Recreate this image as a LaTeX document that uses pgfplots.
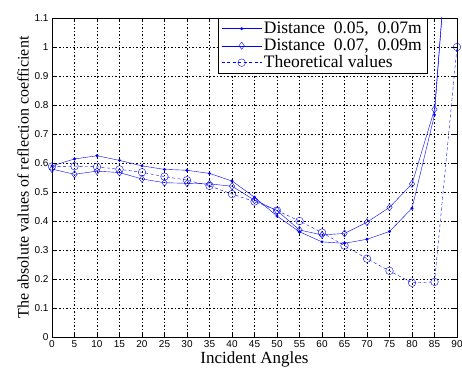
\documentclass[border=0pt]{standalone}
\usepackage{fontspec}
\setmainfont{Liberation Serif}
\setsansfont{Liberation Sans}
\usepackage{pgfplots}
\pgfplotsset{compat=1.18}
\definecolor{mblue}{RGB}{0,0,255}
\begin{document}
\begin{tikzpicture}
\useasboundingbox (-52pt,-33pt) rectangle (410pt,337pt);
\begin{axis}[
  scale only axis, width=405pt, height=319pt,
  xmin=0, xmax=90, ymin=0, ymax=1.1,
  xtick={0,5,10,15,20,25,30,35,40,45,50,55,60,65,70,75,80,85,90},
  ytick={0,0.1,0.2,0.3,0.4,0.5,0.6,0.7,0.8,0.9,1,1.1},
  yticklabels={0,0.1,0.2,0.3,0.4,0.5,0.6,0.7,0.8,0.9,1,1.1},
  xticklabel style={font=\sffamily\fontsize{10}{10}\selectfont},
  yticklabel style={font=\sffamily\fontsize{10}{10}\selectfont},
  /pgf/number format/assume math mode=true,
  tick align=inside, major tick length=4pt,
  tick style={black, thin},
  axis line style={black, thin},
  grid=major,
  major grid style={black, thin, dash pattern=on 1.5pt off 2pt},
  xlabel={Incident Angles},
  ylabel={The absolute values of reflection coefficient},
  xlabel style={font=\fontsize{17}{17}\selectfont, yshift=3pt},
  ylabel style={font=\fontsize{16}{16}\selectfont, yshift=-1pt},
  clip=true,
  legend style={at={(rel axis cs:0.926,1)}, anchor=north east, draw=black, fill=white,
    font=\fontsize{17.5}{17.5}\selectfont, inner xsep=3pt, inner ysep=2pt, row sep=0pt,
    legend cell align=left,
    cells={anchor=west, text height=11.5pt, text depth=4pt, inner ysep=0.5pt}},
  legend image code/.code={\draw[mark repeat=2, mark phase=2, #1] plot coordinates {(0pt,0pt) (20pt,0pt) (40pt,0pt)};},
]
\addplot[mblue, thin, mark=*, mark size=1.3pt, mark options={solid, fill=mblue}] coordinates {
(0,0.590) (5,0.614) (10,0.625) (15,0.609) (20,0.590) (25,0.578) (30,0.575) (35,0.564)
(40,0.538) (45,0.482) (50,0.417) (55,0.363) (60,0.328) (65,0.323) (70,0.337) (75,0.364)
(80,0.444) (85,0.766) (90,1.81)};
\addlegendentry{Distance\ \ 0.05,\ \ 0.07m}
\addplot[mblue, thin, mark=diamond, mark size=3.6pt, mark options={solid}] coordinates {
(0,0.579) (5,0.561) (10,0.572) (15,0.567) (20,0.545) (25,0.532) (30,0.530) (35,0.528)
(40,0.520) (45,0.472) (50,0.436) (55,0.369) (60,0.352) (65,0.357) (70,0.396) (75,0.447)
(80,0.528) (85,0.785) (90,1.75)};
\addlegendentry{Distance\ \ 0.07,\ \ 0.09m}
\addplot[mblue, thin, dash pattern=on 3pt off 2.5pt, mark=o, mark size=3.8pt, mark options={solid}] coordinates {
(0,0.588) (5,0.589) (10,0.587) (15,0.578) (20,0.568) (25,0.553) (30,0.541) (35,0.521)
(40,0.493) (45,0.467) (50,0.436) (55,0.400) (60,0.360) (65,0.315) (70,0.270) (75,0.228)
(80,0.187) (85,0.190) (90,1.0)};
\addlegendentry{Theoretical values}
\end{axis}
\end{tikzpicture}
\end{document}
